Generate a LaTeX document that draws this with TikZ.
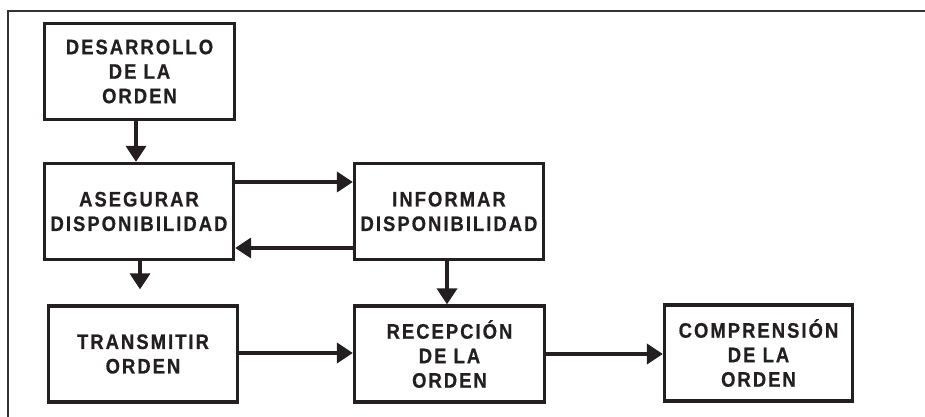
\documentclass[tikz,border=0pt]{standalone}
\usepackage{fontspec}
\setmainfont{Liberation Sans}[LetterSpace=9.5, FakeStretch=0.88, FakeBold=0.6]
\usetikzlibrary{arrows.meta}
\definecolor{ink}{HTML}{231F20}
\definecolor{frame}{HTML}{333333}
\begin{document}
\begin{tikzpicture}[x=1pt,y=1pt,
  box/.style={draw=ink, line width=3.3pt, rectangle, align=center, inner sep=0pt,
    minimum width=189pt, minimum height=96pt,
    font=\fontsize{21}{24.5}\selectfont\bfseries, text=ink},
  arr/.style={draw=ink, line width=3.6pt, -{Triangle[length=16pt,width=20pt]}}]
\useasboundingbox (0,0) rectangle (925,417);
% outer frame (top and left only)
\draw[frame, line width=2.7pt] (8,0) -- (8,406) -- (925,406);
% boxes (y = 417 - pixel y)
\node[box, minimum width=190pt] (d) at (139.5,345.5) {DESARROLLO\\DE LA\\ORDEN};
\node[box] (a) at (139,205.5) {ASEGURAR\\DISPONIBILIDAD};
\node[box] (i) at (449,205.5) {INFORMAR\\DISPONIBILIDAD};
\node[box] (t) at (143,63) {TRANSMITIR\\ORDEN};
\node[box, minimum width=190pt] (r) at (449.5,63) {RECEPCIÓN\\DE LA\\ORDEN};
\node[box, minimum width=188pt] (c) at (758.5,64) {COMPRENSIÓN\\DE LA\\ORDEN};
% connectors
\draw[arr] ([xshift=-3.5pt]d.south) -- ([xshift=-3pt]a.north);
\draw[arr] ([yshift=29.5pt]a.east) -- ([yshift=29.5pt]i.west);
\draw[arr] ([yshift=-36.5pt]i.west) -- ([yshift=-36.5pt]a.east);
\draw[arr, shorten >=15pt] ([xshift=1pt]a.south) -- ([xshift=-3pt]t.north);
\draw[arr] ([xshift=-2pt]i.south) -- ([xshift=-2.5pt]r.north);
\draw[arr] ([yshift=1pt]t.east) -- ([yshift=1pt]r.west);
\draw[arr] (r.east) -- (c.west |- r.east);
\end{tikzpicture}
\end{document}
